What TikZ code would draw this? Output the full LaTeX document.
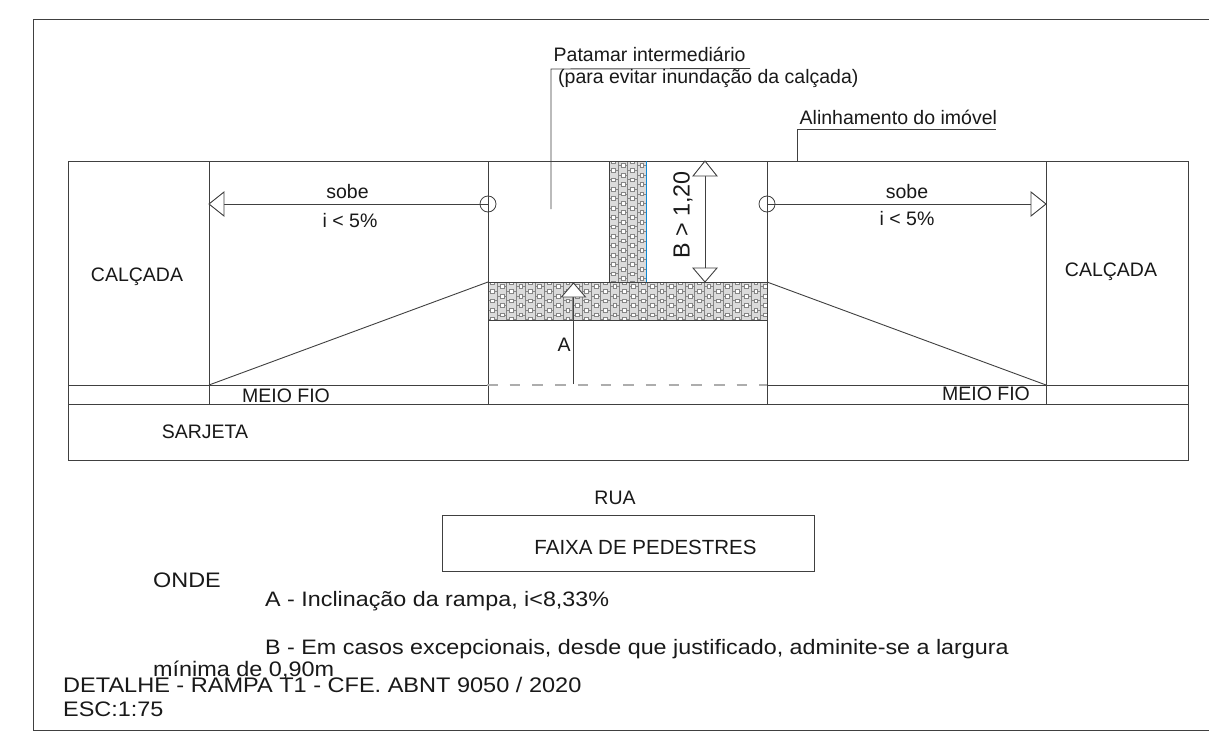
\documentclass[tikz,border=0pt]{standalone}
\usepackage{fontspec}
\setmainfont{Liberation Sans}
\newfontfamily\widefont[FakeStretch=1.115]{Liberation Sans}
\definecolor{ln}{gray}{0.25}
\definecolor{dashgray}{gray}{0.68}
\definecolor{hatchbg}{gray}{0.86}
\definecolor{hatchln}{gray}{0.52}
\tikzset{
  x=1pt,y=-1pt,
  ln/.style={draw=ln,line width=0.9pt},
  txt/.style={inner sep=0pt,font=\fontsize{19.5}{21}\selectfont,text=black!90},
  txtl/.style={txt,anchor=west},
  txtwide/.style={txt,anchor=west,font=\widefont\fontsize{21}{23}\selectfont},
  opentip/.style={draw=ln,fill=white,line width=0.9pt,line join=miter},
}
\newcommand{\hatcharea}[4]{% x0 y0 x1 y1
  \begin{scope}
    \clip (#1,#2) rectangle (#3,#4);
    \fill[hatchbg] (#1,#2) rectangle (#3,#4);
    \foreach \i in {0,...,30}{
      \pgfmathsetmacro{\xa}{#1+\i*9.4}
      \draw[hatchln,line width=0.9pt] (\xa,#2) -- (\xa,#4);
      \foreach \j in {0,...,14}{
        \pgfmathsetmacro{\ya}{#2+\j*9.4+mod(\i,2)*4.7-4.7}
        \fill[white] (\xa+2.8,\ya+2.8) rectangle (\xa+6.6,\ya+6.6);
        \draw[hatchln,line width=0.7pt] (\xa+2.8,\ya+2.8) rectangle (\xa+6.6,\ya+6.6);
        \draw[hatchln,line width=0.7pt] (\xa,\ya+4.7) -- (\xa+2.8,\ya+4.7) (\xa+6.6,\ya+4.7) -- (\xa+9.4,\ya+4.7);
      }
    }
  \end{scope}
}
\begin{document}
\begin{tikzpicture}
\useasboundingbox (0,0) rectangle (1209,741);
\fill[white] (0,0) rectangle (1209,741);
% sheet border
\draw[ln] (1209,19) -- (33,19) -- (33,730) -- (1209,730);
% hatching
\hatcharea{488}{282}{767}{320}
\hatcharea{609}{161}{646}{282}
% plan
\draw[ln] (68,161) rectangle (1188,460);
\foreach \x in {209,488,767,1046}{\draw[ln] (\x,161) -- (\x,404);}
\draw[ln] (68,404) -- (1188,404);
\draw[ln] (68,385) -- (488,385);
\draw[ln] (767,385) -- (1188,385);
\draw[draw=dashgray,line width=2pt,dash pattern=on 10.5pt off 12.2pt] (487,385) -- (767,385);
\draw[ln] (209,385) -- (488,282);
\draw[ln] (767,282) -- (1046,385);
\draw[ln] (488,282) -- (767,282);
\draw[ln] (488,320) -- (767,320);
\draw[ln] (609,161) -- (609,282);
\draw[draw=cyan!70!blue,line width=1pt] (646,161) -- (646,282);
% slope arrows
\coordinate (cl) at (488,204);
\coordinate (cr) at (767,204);
\node[circle,draw=ln,line width=0.8pt,minimum size=16pt,inner sep=0pt] (circL) at (cl) {};
\node[circle,draw=ln,line width=0.8pt,minimum size=16pt,inner sep=0pt] (circR) at (cr) {};
\coordinate (tl) at (209,204);
\coordinate (tr) at (1046,204);
\draw[ln] (cl) -- (tl);
\draw[ln] (cr) -- (tr);
\draw[opentip] (209,204) -- (224,192) -- (224,216) -- cycle;
\draw[opentip] (1046,204) -- (1031,192) -- (1031,216) -- cycle;
% dimension B
\coordinate (bt) at (705,161);
\coordinate (bb) at (705,282);
\draw[ln] (bt) -- (bb);
\draw[opentip] (705,161) -- (693,176) -- (717,176) -- cycle;
\draw[opentip] (705,282) -- (693,268) -- (717,268) -- cycle;
% dimension A
\coordinate (at) at (573.5,283);
\coordinate (ab) at (573.5,384);
\draw[ln] (ab) -- (at);
\draw[opentip] (573.5,283) -- (561.5,297) -- (585.5,297) -- cycle;
% leaders
\coordinate (l1) at (551,209);
\coordinate (l2) at (551,69);
\coordinate (l3) at (750,68.5);
\draw[ln] (l1) -- (l2) -- (l3);
\coordinate (m1) at (797,161);
\coordinate (m2) at (797,129.5);
\coordinate (m3) at (996,129.5);
\draw[ln] (m1) -- (m2) -- (m3);
% crossing
\node[draw=ln,line width=0.9pt,minimum width=372pt,minimum height=56pt,inner sep=0pt] (faixa) at (628,543) {};
% texts
\node[txtl] (t1) at (553.5,54) {Patamar intermediário};
\node[txtl] (t2) at (558,79) {(para evitar inundação da calçada)};
\node[txtl] (t3) at (799.5,117) {Alinhamento do imóvel};
\node[txt] (t4) at (347.5,192) {sobe};
\node[txt] (t5) at (350,221) {i < 5\%};
\node[txt] (t6) at (907,192) {sobe};
\node[txt] (t7) at (907,219) {i < 5\%};
\node[txt] (t8) at (137,277) {CALÇADA};
\node[txt] (t9) at (1111,272) {CALÇADA};
\node[txt] (t10) at (286,396) {MEIO FIO};
\node[txt] (t11) at (986,394) {MEIO FIO};
\node[txt] (t12) at (205,432) {SARJETA};
\node[txt] (t13) at (615,498) {RUA};
\node[txt,font=\fontsize{20.5}{22}\selectfont] (t14) at (645.5,547) {FAIXA DE PEDESTRES};
\node[txt] (t15) at (564,345) {A};
\node[txt,font=\fontsize{23.3}{25}\selectfont,rotate=90] (t16) at (683,215) {B > 1,20};
\node[txtwide] (t17) at (153,580) {ONDE};
\node[txtwide,font=\widefont\fontsize{20.9}{23}\selectfont] (t18) at (265,601) {A - Inclinação da rampa, i<8,33\%};
\node[txtwide,font=\widefont\fontsize{20.9}{23}\selectfont] (t19) at (265,649) {B - Em casos excepcionais, desde que justificado, adminite-se a largura};
\node[txtwide] (t20) at (153,670) {mínima de 0,90m};
\node[txtwide,font=\widefont\fontsize{21.1}{23}\selectfont] (t21) at (63,685) {DETALHE - RAMPA T1 - CFE. ABNT 9050 / 2020};
\node[txtwide] (t22) at (63,709) {ESC:1:75};
\end{tikzpicture}
\end{document}
